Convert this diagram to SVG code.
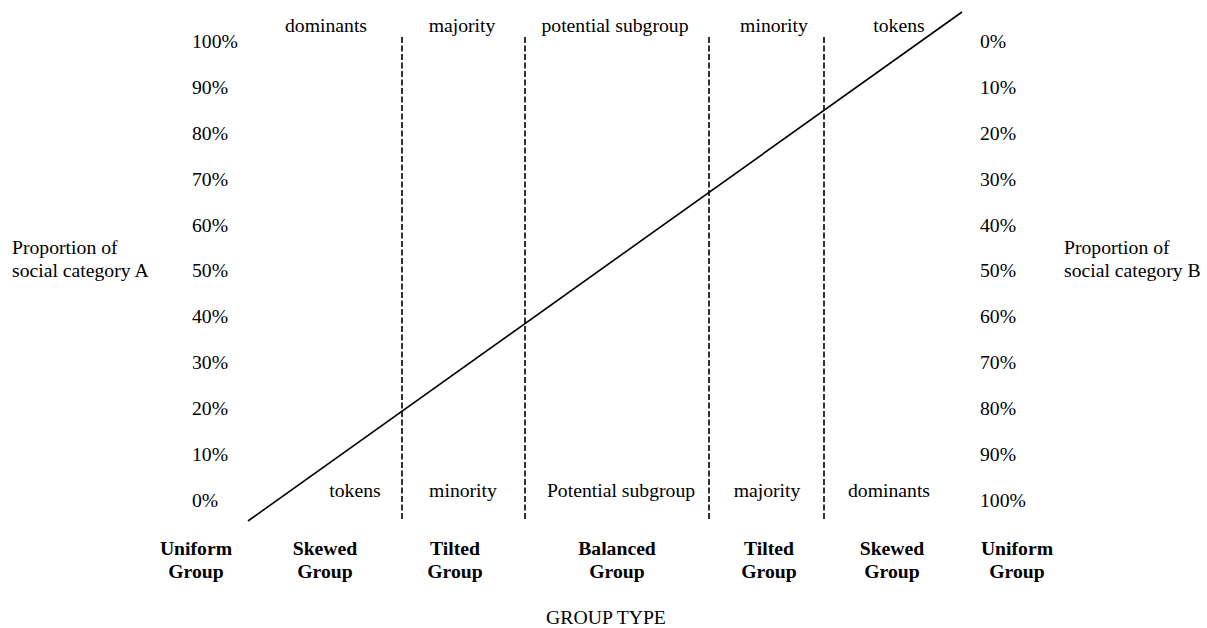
<svg xmlns="http://www.w3.org/2000/svg" width="1207" height="628" viewBox="0 0 1207 628">
<style>
text{font-family:"Liberation Serif","Times New Roman",serif;font-size:19.7px;fill:#000}
.c{text-anchor:middle}
.b{font-weight:bold;text-anchor:middle}
.d{stroke:#000;stroke-width:1.6;stroke-dasharray:6,2.5;fill:none}
</style>
<rect width="1207" height="628" fill="#fff"/>
<g id="connectors">
<line x1="248" y1="521" x2="962" y2="12" stroke="#000" stroke-width="1.6"/>
<line class="d" x1="402" y1="37" x2="402" y2="520"/>
<line class="d" x1="525" y1="37" x2="525" y2="520"/>
<line class="d" x1="709" y1="37" x2="709" y2="520"/>
<line class="d" x1="824" y1="37" x2="824" y2="520"/>
</g>
<g id="axis-left">
<text x="192" y="48">100%</text>
<text x="192" y="94">90%</text>
<text x="192" y="140">80%</text>
<text x="192" y="186">70%</text>
<text x="192" y="232">60%</text>
<text x="192" y="277">50%</text>
<text x="192" y="323">40%</text>
<text x="192" y="369">30%</text>
<text x="192" y="415">20%</text>
<text x="192" y="461">10%</text>
<text x="192" y="507">0%</text>
</g>
<g id="axis-right">
<text x="980" y="48">0%</text>
<text x="980" y="94">10%</text>
<text x="980" y="140">20%</text>
<text x="980" y="186">30%</text>
<text x="980" y="232">40%</text>
<text x="980" y="277">50%</text>
<text x="980" y="323">60%</text>
<text x="980" y="369">70%</text>
<text x="980" y="415">80%</text>
<text x="980" y="461">90%</text>
<text x="980" y="507">100%</text>
</g>
<g id="label-a">
<text x="12" y="254">Proportion of</text>
<text x="12" y="277">social category A</text>
</g>
<g id="label-b">
<text x="1064" y="254">Proportion of</text>
<text x="1064" y="277">social category B</text>
</g>
<g id="top-labels">
<text class="c" x="326" y="32">dominants</text>
<text class="c" x="462" y="32">majority</text>
<text class="c" x="615" y="32">potential subgroup</text>
<text class="c" x="774" y="32">minority</text>
<text class="c" x="899" y="32">tokens</text>
</g>
<g id="bottom-labels">
<text class="c" x="355" y="497">tokens</text>
<text class="c" x="463" y="497">minority</text>
<text class="c" x="621" y="497">Potential subgroup</text>
<text class="c" x="767" y="497">majority</text>
<text class="c" x="889" y="497">dominants</text>
</g>
<g id="group-uniform-left"><text class="b" x="196" y="555">Uniform</text><text class="b" x="196" y="578">Group</text></g>
<g id="group-skewed-left"><text class="b" x="325" y="555">Skewed</text><text class="b" x="325" y="578">Group</text></g>
<g id="group-tilted-left"><text class="b" x="455" y="555">Tilted</text><text class="b" x="455" y="578">Group</text></g>
<g id="group-balanced"><text class="b" x="617" y="555">Balanced</text><text class="b" x="617" y="578">Group</text></g>
<g id="group-tilted-right"><text class="b" x="769" y="555">Tilted</text><text class="b" x="769" y="578">Group</text></g>
<g id="group-skewed-right"><text class="b" x="892" y="555">Skewed</text><text class="b" x="892" y="578">Group</text></g>
<g id="group-uniform-right"><text class="b" x="1017" y="555">Uniform</text><text class="b" x="1017" y="578">Group</text></g>
<g id="x-title"><text class="c" x="606" y="624">GROUP TYPE</text></g>
</svg>
